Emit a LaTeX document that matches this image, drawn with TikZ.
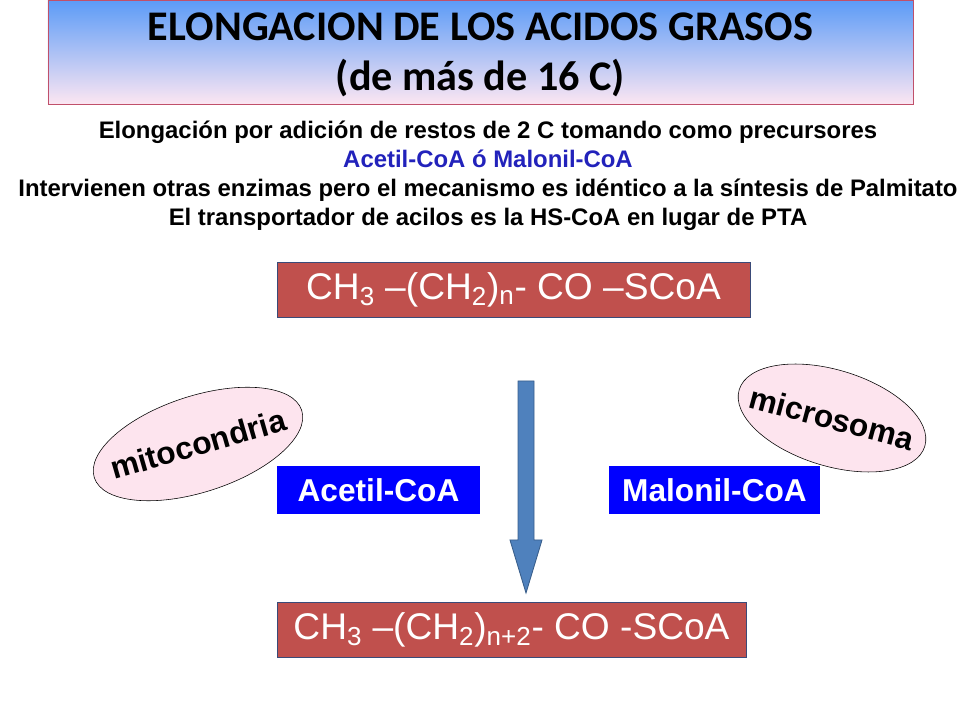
\documentclass[tikz,border=0pt]{standalone}
\usepackage{fontspec}
\setmainfont{Liberation Sans}
\newfontfamily\titlefont{Carlito}
\usetikzlibrary{shapes.geometric}
\definecolor{titletop}{HTML}{5B9BF7}
\definecolor{titlebot}{HTML}{FCE6F2}
\definecolor{titleline}{HTML}{C0506A}
\definecolor{chainred}{HTML}{C0504D}
\definecolor{chainline}{HTML}{3A4A78}
\definecolor{donorblue}{HTML}{0000FF}
\definecolor{arrowblue}{HTML}{4F81BD}
\definecolor{arrowline}{HTML}{385D8A}
\definecolor{organpink}{HTML}{FDE4EE}
\definecolor{notetext}{HTML}{2222BB}

\begin{document}
\begin{tikzpicture}[x=0.025cm, y=-0.025cm,
    chain/.style = {rectangle, fill=chainred, draw=chainline, text=white,
        minimum height=1.375cm, inner sep=0pt, font=\fontsize{26.4}{30}\selectfont},
    donor/.style = {rectangle, fill=donorblue, text=white, minimum height=1.2cm,
        inner sep=0pt, font=\bfseries\fontsize{22.5}{26}\selectfont},
    organelle/.style = {ellipse, fill=organpink, draw=black, inner sep=0pt},
    organtext/.style = {font=\bfseries\fontsize{22.5}{26}\selectfont}]
\useasboundingbox (0,0) rectangle (960,720);
% title
\node (title) at (480.5,52) [rectangle, draw=titleline, top color=titletop,
    bottom color=titlebot, minimum width=21.625cm, minimum height=2.6cm] {};
\node (titletext) at (480.5,55) [align=center,
    font=\titlefont\bfseries\fontsize{30}{35.6}\selectfont]
    {ELONGACION DE LOS ACIDOS GRASOS\\(de más de 16 C)};
\node (notes) at (488,176) [align=center,
    font=\bfseries\fontsize{17}{20.6}\selectfont]
    {Elongación por adición de restos de 2 C tomando como precursores\\
     {\color{notetext}Acetil-CoA ó Malonil-CoA}\\
     Intervienen otras enzimas pero el mecanismo es idéntico a la síntesis de Palmitato\\
     El transportador de acilos es la HS-CoA en lugar de PTA};
% chains
\node (chainn) at (513.5,289.5) [chain, minimum width=11.825cm]
    {CH\textsubscript{3} –(CH\textsubscript{2})\textsubscript{n}- CO –SCoA};
\node (chainn2) at (511.5,629.5) [chain, minimum width=11.725cm]
    {CH\textsubscript{3} –(CH\textsubscript{2})\textsubscript{n+2}- CO -SCoA};
% organelles
\node (mito) at (198,444) [organelle, rotate=18, minimum width=5.45cm, minimum height=2.4cm] {};
\node (mitotext) at (mito.center) [organtext, rotate=16] {mitocondria};
\node (micro) at (832,418) [organelle, rotate=-17, minimum width=4.85cm, minimum height=2.4cm] {};
\node (microtext) at (micro.center) [organtext, rotate=-15] {microsoma};
% donors
\node (acetil) at (378.5,490) [donor, minimum width=5.075cm] {Acetil-CoA};
\node (malonil) at (714.5,490) [donor, minimum width=5.275cm] {Malonil-CoA};
% arrow
\coordinate (atop) at (526,381);
\coordinate (abot) at (526,593);
\draw[fill=arrowblue, draw=arrowline, line width=0.6pt]
    (atop) ++(-8,0) -- ++(16,0) -- ++(0,159) -- ++(8,0) -- (abot)
    -- ++(-16,-53) -- ++(8,0) -- cycle;
\end{tikzpicture}
\end{document}
